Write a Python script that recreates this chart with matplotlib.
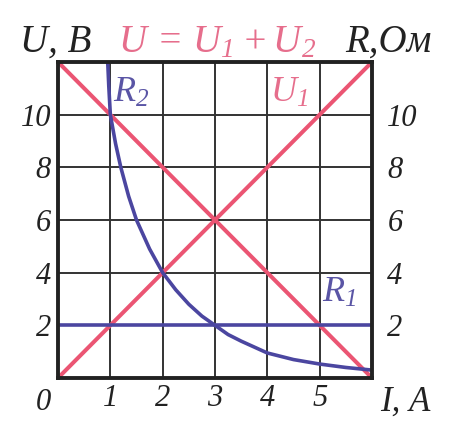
import matplotlib
matplotlib.use("Agg")
import matplotlib.pyplot as plt

plt.rcParams['font.family'] = ['Liberation Serif', 'DejaVu Serif']
plt.rcParams['font.style'] = 'italic'
plt.rcParams['mathtext.fontset'] = 'custom'
plt.rcParams['mathtext.it'] = 'Liberation Serif:italic'
plt.rcParams['mathtext.rm'] = 'Liberation Serif:italic'

# current, A
I_line = [0, 6]
U1 = [0, 12]           # voltage on R1, V
U2 = [12, 0]           # voltage on R2, V
R1 = [2, 2]            # constant resistor, Ohm

# variable resistor R2 read along the current axis
I_r2 = [0.95, 0.97, 1.0, 1.1, 1.2, 1.35, 1.5, 1.75, 2.0, 2.25, 2.5, 2.75,
        3.0, 3.25, 3.5, 4.0, 4.5, 5.0, 5.5, 6.0]
R2 = [12.0, 11.1, 10.0, 8.9, 8.0, 6.9, 6.0, 4.9, 4.0, 3.35, 2.8, 2.35,
      2.0, 1.65, 1.4, 0.95, 0.7, 0.53, 0.4, 0.3]

x_ticks = [1, 2, 3, 4, 5]
y_ticks = [2, 4, 6, 8, 10]

red = '#eb5573'
blue = '#4b46a0'
ink = '#222222'

fig = plt.figure(figsize=(4.69, 4.21), dpi=100)
ax = fig.add_axes([58/469, 43/421, 314/469, 316/421])

ax.plot(I_line, U1, color=red, lw=2.9, solid_capstyle='butt', zorder=3)
ax.plot(I_line, U2, color=red, lw=2.9, solid_capstyle='butt', zorder=3)
ax.plot(I_line, R1, color=blue, lw=2.6, zorder=4)
ax.plot(I_r2, R2, color=blue, lw=2.6, zorder=4)

ax.set_xlim(0, 6)
ax.set_ylim(0, 12)
ax.set_xticks(x_ticks)
ax.set_yticks(y_ticks)
ax.grid(True, color='#333333', lw=1.4)
ax.tick_params(length=0, labelsize=22, colors=ink)
ax.tick_params(axis='x', pad=4)
ax.tick_params(axis='y', pad=5)
for s in ax.spines.values():
    s.set_linewidth(2.8)
    s.set_color(ink)
    s.set_zorder(5)

# resistance scale on the right
ax2 = ax.twinx()
ax2.set_ylim(0, 12)
ax2.set_yticks(y_ticks)
ax2.tick_params(length=0, labelsize=22, colors=ink, pad=11)
for s in ax2.spines.values():
    s.set_visible(False)

ax.text(-0.27, -0.92, '0', fontsize=22, color=ink, ha='center', va='center', clip_on=False)
ax.text(6.63, -0.92, 'I, А', fontsize=25, color=ink, ha='center', va='center', clip_on=False)

ax.text(-0.73, 12.38, 'U, В', fontsize=28, color=ink, ha='left', va='baseline', clip_on=False)
ax.text(1.15, 12.38, r'$U\,=\,U_1+U_2$', fontsize=28, color='#e66e8c', ha='left', va='baseline', clip_on=False)
ax.text(5.48, 12.38, 'R,Ом', fontsize=28, color=ink, ha='left', va='baseline', clip_on=False)

ax.text(1.05, 10.8, r'$R_2$', fontsize=26, color='#5a55a5', ha='left', va='center', zorder=6)
ax.text(4.05, 10.8, r'$U_1$', fontsize=26, color='#e66e8c', ha='left', va='center', zorder=6)
ax.text(5.04, 3.2, r'$R_1$', fontsize=26, color='#5a55a5', ha='left', va='center', zorder=6)

fig.savefig('out.png', dpi=100)
